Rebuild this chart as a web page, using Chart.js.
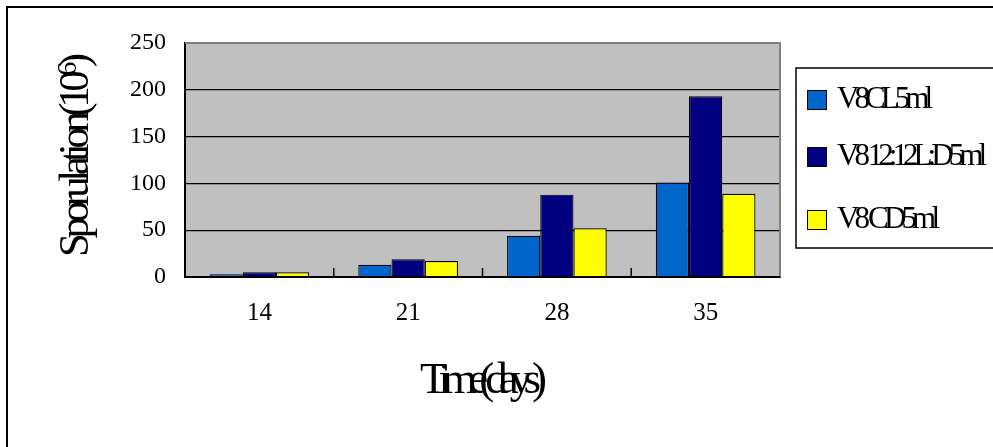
<!DOCTYPE html>
<html>
<head>
<meta charset="utf-8">
<script src="https://cdn.jsdelivr.net/npm/chart.js@4.4.1/dist/chart.umd.min.js"></script>
<style>
  html, body { margin: 0; padding: 0; background: #ffffff; }
  #wrap { width: 993px; height: 447px; position: relative; }
  canvas { display: block; }
</style>
</head>
<body>
<div id="wrap"><canvas id="c" width="993" height="447"></canvas></div>
<script>
// ---- data ----
const categories = ['14', '21', '28', '35'];
const seriesNames = ['V8CL5ml', 'V8 12:12L:D5ml', 'V8 CD5ml'];
const seriesCL = [3, 13, 44, 101];
const seriesLD = [5, 19, 88, 193];
const seriesCD = [5, 17, 52, 89];
const yTickValues = [0, 50, 100, 150, 200, 250];
const xTitle = 'Time(days)';
const yTitleMain = 'Sporulation(10';
const yTitleSup = '6';
const yTitleEnd = ')';

const colors = ['#0066CC', '#000080', '#FFFF00'];
const SERIF = '"Liberation Serif", "Times New Roman", serif';

function drawFitted(ctx, parts, x, y, target) {
  let chars = [];
  parts.forEach(p => {
    for (const ch of p.t) chars.push({ ch, size: p.size, rise: p.rise || 0 });
  });
  let natural = 0;
  chars.forEach(c => { ctx.font = c.size + 'px ' + SERIF; c.w = ctx.measureText(c.ch).width; natural += c.w; });
  const ls = chars.length > 1 ? (target - natural) / (chars.length - 1) : 0;
  let cx = x;
  chars.forEach(c => {
    ctx.font = c.size + 'px ' + SERIF;
    ctx.fillText(c.ch, cx, y - c.rise);
    cx += c.w + ls;
  });
}

const decor = {
  id: 'decor',
  beforeDraw(chart) {
    const ctx = chart.ctx;
    const a = chart.chartArea;
    ctx.save();
    ctx.fillStyle = '#ffffff';
    ctx.fillRect(0, 0, chart.width, chart.height);
    ctx.strokeStyle = '#000000';
    ctx.lineWidth = 2;
    ctx.strokeRect(7, 7, chart.width + 20, chart.height + 20);
    ctx.fillStyle = '#C0C0C0';
    ctx.fillRect(a.left, a.top, a.right - a.left, a.bottom - a.top);
    ctx.restore();
  },
  afterDatasetsDraw(chart) {
    const ctx = chart.ctx;
    const a = chart.chartArea;
    const xs = chart.scales.x;
    ctx.save();
    ctx.strokeStyle = '#808080';
    ctx.lineWidth = 2;
    ctx.beginPath();
    ctx.moveTo(a.left, a.top);
    ctx.lineTo(a.right, a.top);
    ctx.lineTo(a.right, a.bottom);
    ctx.stroke();
    ctx.strokeStyle = '#000000';
    ctx.lineWidth = 1.5;
    for (let i = 1; i < categories.length; i++) {
      const px = (xs.getPixelForValue(i - 1) + xs.getPixelForValue(i)) / 2;
      ctx.beginPath();
      ctx.moveTo(px, a.bottom);
      ctx.lineTo(px, a.bottom - 9);
      ctx.stroke();
    }
    ctx.lineWidth = 2;
    ctx.beginPath();
    ctx.moveTo(a.left - 1, a.bottom);
    ctx.lineTo(a.right, a.bottom);
    ctx.stroke();
    ctx.restore();
  },
  afterDraw(chart) {
    const ctx = chart.ctx;
    ctx.save();
    ctx.fillStyle = '#000000';
    ctx.textAlign = 'left';
    ctx.textBaseline = 'alphabetic';
    drawFitted(ctx, [{ t: xTitle, size: 45 }], 420, 393, 127);
    ctx.save();
    ctx.translate(88, 257);
    ctx.rotate(-Math.PI / 2);
    drawFitted(ctx, [
      { t: yTitleMain, size: 43 },
      { t: yTitleSup, size: 28, rise: 12 },
      { t: yTitleEnd, size: 43 }
    ], 0, 0, 204);
    ctx.restore();
    ctx.strokeStyle = '#000000';
    ctx.lineWidth = 1.5;
    ctx.fillStyle = '#ffffff';
    ctx.fillRect(796, 68, 220, 180);
    ctx.strokeRect(796, 68, 220, 180);
    const baselines = [108, 165, 228];
    const widths = [96, 150, 103];
    for (let i = 0; i < seriesNames.length; i++) {
      ctx.fillStyle = colors[i];
      ctx.fillRect(807, baselines[i] - 18, 20, 20);
      ctx.lineWidth = 1;
      ctx.strokeRect(807.5, baselines[i] - 17.5, 19, 19);
      ctx.fillStyle = '#000000';
      drawFitted(ctx, [{ t: seriesNames[i], size: 31 }], 837, baselines[i], widths[i]);
    }
    ctx.restore();
  }
};

const datasets = [seriesCL, seriesLD, seriesCD].map((d, i) => ({
  label: seriesNames[i],
  data: d,
  backgroundColor: colors[i],
  borderColor: '#000000',
  borderWidth: 1.2,
  categoryPercentage: 0.67,
  barPercentage: 1.0
}));

new Chart(document.getElementById('c'), {
  type: 'bar',
  data: { labels: categories, datasets },
  options: {
    responsive: false,
    animation: false,
    devicePixelRatio: 1,
    layout: { padding: { left: 0, top: 43, right: 213, bottom: 110 } },
    plugins: {
      legend: { display: false },
      tooltip: { enabled: false },
      title: { display: false }
    },
    scales: {
      x: {
        grid: { display: false, drawTicks: false },
        border: { display: true, color: '#000000', width: 2 },
        ticks: {
          color: '#000000',
          font: { family: SERIF, size: 25 },
          padding: 21,
          maxRotation: 0
        },
        afterFit(s) { s.height = 60; }
      },
      y: {
        min: 0,
        max: 250,
        afterBuildTicks(s) { s.ticks = yTickValues.map(v => ({ value: v })); },
        grid: {
          drawTicks: false,
          lineWidth: 1.2,
          color: (c) => (c.tick && c.tick.value === 250 ? '#808080' : '#000000')
        },
        border: { display: true, color: '#000000', width: 2 },
        ticks: {
          color: '#000000',
          font: { family: SERIF, size: 24 },
          padding: 19
        },
        afterFit(s) { s.width = 185; }
      }
    }
  },
  plugins: [decor]
});
</script>
</body>
</html>
